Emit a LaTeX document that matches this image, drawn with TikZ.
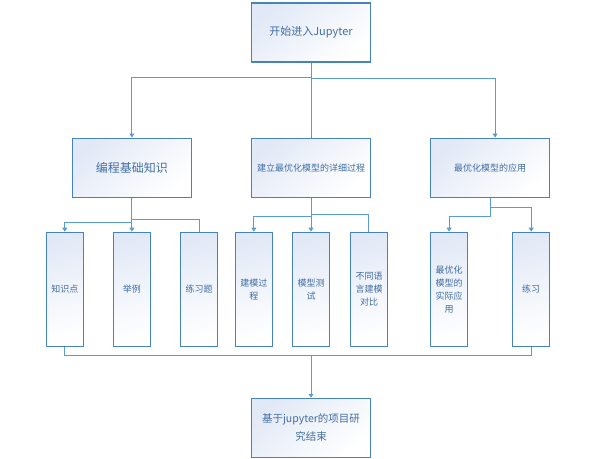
\documentclass[tikz,border=0pt]{standalone}
\usepackage{fontspec}
\setmainfont{Noto Sans CJK SC}
\usepackage{tikz}
\usetikzlibrary{arrows.meta, positioning, calc}
\usepackage{xcolor}
\definecolor{boxcolor}{RGB}{70,130,190}
\definecolor{linkcolor}{RGB}{91,155,213}
\definecolor{textcolor}{RGB}{65,110,165}
\definecolor{shadecolor}{RGB}{226,233,246}

\begin{document}
\begin{tikzpicture}[
    block/.style={rectangle, draw=boxcolor, line width=1.1pt, top color=shadecolor, bottom color=white, shading angle=40, minimum width=119pt, minimum height=59pt, align=center, text=textcolor, font=\fontsize{9pt}{13pt}\selectfont, inner sep=2pt},
    leaf/.style={block, minimum width=37pt, minimum height=114pt, shading angle=15},
    arrow/.style={-{Triangle[length=4pt, width=5pt]}, draw=linkcolor, line width=1pt},
    line/.style={draw=linkcolor, line width=1pt}
]
\useasboundingbox (0,0) rectangle (594pt,-458pt);

\node[block, font=\fontsize{11pt}{15pt}\selectfont] (start) at (311pt,-32.5pt) {开始进入Jupyter};
\node[block, below=75pt of start] (model) {建立最优化模型的详细过程};
\node[block, left=59pt of model, font=\fontsize{12pt}{15pt}\selectfont] (basic) {编程基础知识};
\node[block, right=59pt of model] (apply) {最优化模型的应用};

\node[leaf, below=34pt of basic] (eg) {举例};
\node[leaf, left=29pt of eg] (kp) {知识点};
\node[leaf, right=29pt of eg] (ex) {练习题};
\node[leaf, below=34pt of model] (test) {模型测\\试};
\node[leaf, left=19pt of test] (proc) {建模过\\程};
\node[leaf, right=20pt of test] (cmp) {不同语\\言建模\\对比};
\node[leaf, below right=34pt and 0pt of apply.south west] (real) {最优化\\模型的\\实际应\\用};
\node[leaf, right=44pt of real] (prac) {练习};

\node[block, below=51pt of test, font=\fontsize{10.5pt}{18pt}\selectfont] (end) {基于jupyter的项目研\\究结束};

% first level
\draw[arrow] (start.south) -- ++(0,-15pt) -| (basic.north);
\draw[arrow] (start.south) -- ++(0,-16pt) -| ([xshift=5pt]apply.north);
\draw[line] (start.south) -- (model.north);

% second level
\draw[line] (basic.south) -- ++(0,-22pt) -| (ex.north);
\draw[arrow] (basic.south) -- (eg.north);
\draw[arrow] ([yshift=-25pt]basic.south) -| (kp.north);
\draw[line] (model.south) -- ++(0,-17pt) -| ([xshift=-1pt]cmp.north);
\draw[arrow] (model.south) -- (test.north);
\draw[arrow] ([yshift=-19pt]model.south) -| (proc.north);
\draw[arrow] (apply.south) -- ++(0,-19pt) -| (real.north);
\draw[arrow] ([yshift=-10pt]apply.south) -| (prac.north);

% merge
\coordinate[below=9pt of kp.south] (m);
\draw[line] (kp.south) -- (m) -| (prac.south);
\draw[arrow] (m -| end.north) -- (end.north);

\end{tikzpicture}
\end{document}
